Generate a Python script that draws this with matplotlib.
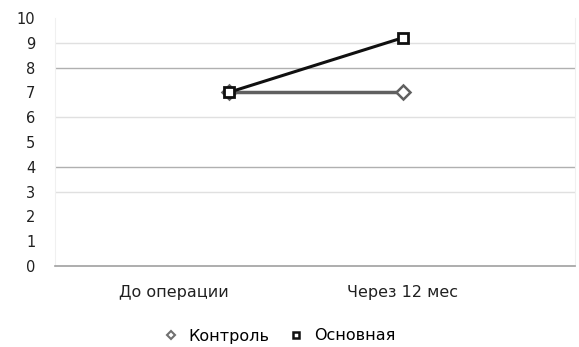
import matplotlib
matplotlib.use('Agg')
import matplotlib.pyplot as plt
from matplotlib.lines import Line2D

categories = ['До операции', 'Через 12 мес']
control = [7, 7]
main_group = [7, 9.2]
series_names = ['Контроль', 'Основная']
y_ticks = [0, 1, 2, 3, 4, 5, 6, 7, 8, 9, 10]
light_grid = [3, 6, 9]
dark_grid = [4, 8]

plt.rcParams['font.family'] = ['DejaVu Sans']

fig = plt.figure(figsize=(5.79, 3.47), dpi=100)
ax = fig.add_axes([0.095, 0.2334, 0.898, 0.715])

for y in light_grid:
    ax.axhline(y, color='#e0e0e0', lw=1.0, zorder=1)
for y in dark_grid:
    ax.axhline(y, color='#b0b0b0', lw=1.0, zorder=1)

x = list(range(len(categories)))
ax.plot(x, control, color='#606060', lw=2.5, marker='D', ms=7,
        mfc='white', mec='#606060', mew=1.8, zorder=3)
ax.plot(x, main_group, color='#101010', lw=2.2, marker='s', ms=7,
        mfc='white', mec='#101010', mew=2.0, zorder=4)

ax.set_xlim(-1.0, 1.99)
ax.set_ylim(0, 10)
ax.set_yticks(y_ticks)
ax.set_xticks(x)
ax.set_xticklabels(categories)
ax.tick_params(axis='both', length=0, colors='#202020')
ax.tick_params(axis='y', pad=14, labelsize=10.5)
ax.tick_params(axis='x', pad=14, labelsize=11.5)
ax.get_xticklabels()[0].set_horizontalalignment('right')

ax.spines['top'].set_visible(False)
ax.spines['left'].set_color('#f0f0f0')
ax.spines['right'].set_color('#f0f0f0')
ax.spines['bottom'].set_color('#a0a0a0')
ax.spines['bottom'].set_linewidth(1.2)

# legend shows markers only
handles = [
    Line2D([], [], ls='none', marker='D', ms=4.5, mfc='white',
           mec='#707070', mew=1.5),
    Line2D([], [], ls='none', marker='s', ms=5, mfc='white',
           mec='#101010', mew=1.8),
]
fig.legend(handles, series_names, loc='center',
           bbox_to_anchor=(279 / 579, 1 - 336 / 347),
           ncol=2, frameon=False, fontsize=11.5, handlelength=1.0,
           columnspacing=1.2, handletextpad=0.6)

fig.savefig('out.png', dpi=100)
